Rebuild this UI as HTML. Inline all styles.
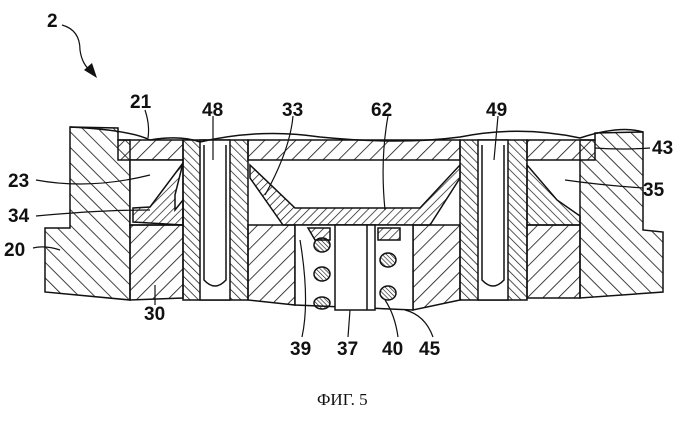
<!DOCTYPE html>
<html><head><meta charset="utf-8"><style>
html,body{margin:0;padding:0;background:#fff;width:699px;height:422px;overflow:hidden}
text{font-family:"Liberation Sans",sans-serif;font-weight:bold;font-size:19px;fill:#111}
</style></head><body>
<svg width="699" height="422" viewBox="0 0 699 422" xmlns="http://www.w3.org/2000/svg">
<defs>
<pattern id="hA" width="11" height="11" patternUnits="userSpaceOnUse" patternTransform="rotate(45)"><line x1="0" y1="0" x2="0" y2="11" stroke="#111" stroke-width="1.6"/></pattern>
<pattern id="hB" width="11" height="11" patternUnits="userSpaceOnUse" patternTransform="rotate(-45)"><line x1="0" y1="0" x2="0" y2="11" stroke="#111" stroke-width="1.6"/></pattern>
<pattern id="hC" width="6" height="6" patternUnits="userSpaceOnUse" patternTransform="rotate(45)"><line x1="0" y1="0" x2="0" y2="6" stroke="#111" stroke-width="1.4"/></pattern>
<pattern id="hD" width="6" height="6" patternUnits="userSpaceOnUse" patternTransform="rotate(-45)"><line x1="0" y1="0" x2="0" y2="6" stroke="#111" stroke-width="1.4"/></pattern>
<pattern id="hE" width="3" height="3" patternUnits="userSpaceOnUse" patternTransform="rotate(-45)"><line x1="0" y1="0" x2="0" y2="3" stroke="#111" stroke-width="1.2"/></pattern>
</defs>
<g stroke="#111" stroke-width="1.5">
<path d="M70 127 L118 128 L118 140 L130 140 L130 300 L45 292 L45 228 L70 228 Z" fill="url(#hB)"/>
<path d="M580 140 L595 140 L595 133 L643 132 L643 230 L663 232 L663 292 L580 298 Z" fill="url(#hB)"/>
<path d="M118 140 L183 140 L183 160 L118 160 Z" fill="url(#hA)"/>
<path d="M248 140 L460 140 L460 160 L248 160 Z" fill="url(#hA)"/>
<path d="M527 140 L595 140 L595 160 L527 160 Z" fill="url(#hA)"/>
<path d="M130 160 L183 160 L183 225 L130 225 Z" fill="#fff"/>
<path d="M183 163 L150 207 L133 208 L133 222 L183 225 L183 200 L175 210 L175 195 Z" fill="url(#hC)"/>
<path d="M250 165 L295 208 L420 208 L460 165 L460 178 L430 225 L283 225 L250 178 Z" fill="url(#hC)"/>
<path d="M527 165 L557 200 L580 216 L580 225 L527 225 Z" fill="url(#hD)"/>
<path d="M130 225 L183 225 L183 298 L130 300 Z" fill="url(#hA)"/>
<path d="M248 225 L295 225 L295 305 L248 300 Z" fill="url(#hA)"/>
<path d="M413 225 L460 225 L460 300 L413 310 Z" fill="url(#hA)"/>
<path d="M527 225 L580 225 L580 298 L527 298 Z" fill="url(#hA)"/>
<path d="M183 140 L248 140 L248 300 L183 300 Z" fill="url(#hD)"/>
<path d="M460 140 L527 140 L527 300 L460 300 Z" fill="url(#hD)"/>
<path d="M200 140 L230 140 L230 300 L200 300 Z" fill="#fff"/>
<path d="M478 140 L508 140 L508 300 L478 300 Z" fill="#fff"/>
<path d="M204 145 L204 280 Q215 292 226 280 L226 145" fill="none"/>
<path d="M482 145 L482 280 Q493 292 504 280 L504 145" fill="none"/>
<path d="M295 225 L413 225 L413 310 L295 305 Z" fill="#fff"/>
<path d="M308 228 L330 228 L330 240 L315 240 Z" fill="url(#hC)"/>
<path d="M378 228 L400 228 L400 240 L378 240 Z" fill="url(#hC)"/>
<path d="M335 225 L375 225 L375 310 L335 310 Z" fill="#fff"/>
<line x1="367" y1="225" x2="367" y2="310"/>
<ellipse cx="322" cy="245" rx="8" ry="7" fill="url(#hE)"/>
<ellipse cx="322" cy="274" rx="8" ry="7" fill="url(#hE)"/>
<ellipse cx="322" cy="303" rx="8" ry="6" fill="url(#hE)"/>
<ellipse cx="388" cy="260" rx="8" ry="7" fill="url(#hE)"/>
<ellipse cx="388" cy="293" rx="8" ry="7" fill="url(#hE)"/>
</g>
<path d="M70 127 Q130 130 150 140 Q180 135 200 142 Q260 128 320 137 Q400 145 460 137 Q520 125 580 138 Q620 125 643 132" fill="none" stroke="#111" stroke-width="1.5"/>
<g fill="none" stroke="#111" stroke-width="1.2">
<path d="M62 25 Q80 30 80 50 Q82 65 92 72"/>
<path d="M145 110 Q150 125 148 138"/>
<path d="M213 116 L213 160"/>
<path d="M293 116 Q290 150 265 195"/>
<path d="M388 116 Q380 160 385 210"/>
<path d="M498 116 L494 160"/>
<path d="M650 148 Q620 150 595 148"/>
<path d="M643 188 Q600 185 565 180"/>
<path d="M36 180 Q90 190 150 175"/>
<path d="M36 216 Q100 210 150 210"/>
<path d="M33 248 Q45 245 60 250"/>
<path d="M155 305 L155 285"/>
<path d="M302 337 Q310 300 300 240"/>
<path d="M348 337 L350 310"/>
<path d="M398 337 Q395 315 385 300"/>
<path d="M433 337 Q425 315 405 310"/>
</g>
<polygon points="97,78 84,70 92,63" fill="#111"/>
<text x="47" y="27">2</text>
<text x="130" y="108">21</text>
<text x="202" y="116">48</text>
<text x="282" y="116">33</text>
<text x="371" y="116">62</text>
<text x="486" y="116">49</text>
<text x="652" y="154">43</text>
<text x="643" y="196">35</text>
<text x="8" y="187">23</text>
<text x="8" y="222">34</text>
<text x="4" y="256">20</text>
<text x="144" y="320">30</text>
<text x="290" y="355">39</text>
<text x="337" y="355">37</text>
<text x="382" y="355">40</text>
<text x="419" y="355">45</text>
<text x="317" y="405" style="font-family:'Liberation Serif',serif;font-weight:normal;font-size:17px">ФИГ. 5</text>
</svg>
</body></html>
